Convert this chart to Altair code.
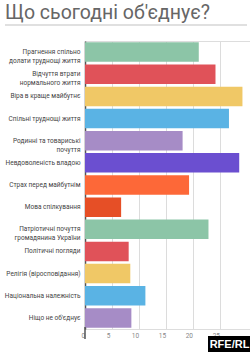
import altair as alt
import pandas as pd

title_text = "Що сьогодні об'єднує?"
categories = [
    "Прагнення спільно\nдолати труднощі життя",
    "Відчуття втрати\nнормального життя",
    "Віра в краще майбутнє",
    "Спільні труднощі життя",
    "Родинні та товариські\nпочуття",
    "Невдоволеність владою",
    "Страх перед майбутнім",
    "Мова спілкування",
    "Патріотичні почуття\nгромадянина України",
    "Політичні погляди",
    "Релігія (віросповідання)",
    "Національна належність",
    "Ніщо не об'єднує",
]
values = [21.1, 24.2, 29.2, 26.7, 18.1, 28.6, 19.3, 6.7, 22.9, 8.1, 8.4, 11.2, 8.6]
colors = ["#8cc5a7", "#e05259", "#f0c866", "#5ab3e4", "#a68cc6", "#6b4fd0", "#fd6838",
          "#e64f26", "#8cc5a7", "#e05259", "#f0c866", "#5ab3e4", "#a68cc6"]
x_ticks = [0, 5, 10, 15, 20, 25]

W, H = 165, 288
df = pd.DataFrame({"cat": categories, "val": values})

bars = alt.Chart(df).mark_bar().encode(
    y=alt.Y("cat:N", sort=categories, title=None,
            scale=alt.Scale(paddingInner=0.12, paddingOuter=0.06),
            axis=alt.Axis(labelExpr="split(datum.label, '\\n')", labelFont="Roboto",
                          labelFontSize=6.5, labelColor="#444", labelPadding=5,
                          labelLineHeight=9, ticks=False, domainColor="#555",
                          domainWidth=1.5, labelLimit=200)),
    x=alt.X("val:Q", title=None, scale=alt.Scale(domain=[0, 30.6], nice=False),
            axis=alt.Axis(values=x_ticks, labelFont="Roboto", labelFontSize=6.5,
                          labelColor="#888", ticks=False, domain=False, labelPadding=3,
                          labelOffset=-4, gridColor="#dcdcdc", gridWidth=1)),
    color=alt.Color("cat:N", scale=alt.Scale(domain=categories, range=colors), legend=None),
)

one = pd.DataFrame({"t": [title_text]})
title = alt.Chart(one).mark_text(font="Roboto", fontSize=19.5, color="#666", align="left",
                                 baseline="alphabetic").encode(
    text="t:N", x=alt.value(-80), y=alt.value(-22))
line = alt.Chart(one).mark_rule(color="#e0e0e0", strokeWidth=2).encode(
    x=alt.value(-80), x2=alt.value(162), y=alt.value(-16))
ext = alt.Chart(one).mark_rule(color="#555", strokeWidth=1.5).encode(
    x=alt.value(0), y=alt.value(H - 2), y2=alt.value(H + 10))
logo_bg = alt.Chart(one).mark_rect(color="#000").encode(
    x=alt.value(123), x2=alt.value(166), y=alt.value(295), y2=alt.value(312))
logo_txt = alt.Chart(pd.DataFrame({"t": ["RFE/RL"]})).mark_text(
    font="Liberation Sans", fontSize=11, fontWeight="bold", color="#fff",
    align="center", baseline="middle").encode(text="t:N", x=alt.value(144.5), y=alt.value(304))

chart = alt.layer(bars, title, line, ext, logo_bg, logo_txt).properties(
    width=W, height=H,
    autosize=alt.AutoSizeParams(type="none"),
    padding={"left": 85, "top": 41, "right": 0, "bottom": 23},
).configure_view(stroke=None).configure(background="#ffffff")

chart.save("out.html", embed_options={"renderer": "svg", "actions": False})
